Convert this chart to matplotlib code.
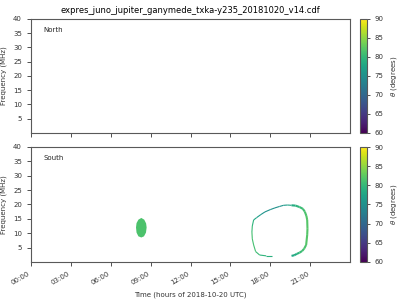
import matplotlib
matplotlib.use("Agg")
import matplotlib.pyplot as plt
import numpy as np
from matplotlib.collections import LineCollection
from matplotlib.colors import Normalize
from matplotlib.cm import ScalarMappable

title = "expres_juno_jupiter_ganymede_txka-y235_20181020_v14.cdf"
hemispheres = ["North", "South"]
xtick_hours = [0, 3, 6, 9, 12, 15, 18, 21]
xtick_labels = ["00:00", "03:00", "06:00", "09:00", "12:00", "15:00", "18:00", "21:00"]
ytick_vals = [5, 10, 15, 20, 25, 30, 35, 40]
cbar_ticks = [60, 65, 70, 75, 80, 85, 90]

# South: emission blob (outline) ~08:00-08:40
blob_t = [8.30, 8.52, 8.66, 8.70, 8.65, 8.50, 8.30, 8.08, 7.94, 7.90, 7.94, 8.08]
blob_f = [15.3, 14.7, 13.4, 12.0, 10.2, 8.9, 8.5, 8.9, 10.2, 12.0, 13.5, 14.7]
blob_theta = 81.5

# South: loop arc (two pieces separated by a gap at the bottom)
loop1_t = [18.10, 17.70, 17.20, 16.90, 16.75, 16.65, 16.62, 16.65, 16.75, 16.97, 17.30, 17.60,
           18.00, 18.35, 18.70, 19.00, 19.30, 19.60]
loop1_f = [2.1, 2.1, 2.4, 3.6, 5.9, 8.0, 10.4, 12.5, 14.6, 15.4, 16.5, 17.4,
           18.2, 18.8, 19.3, 19.7, 19.8, 19.7]
loop1_theta = [79, 79, 80, 81, 81, 81, 81, 80, 79, 77, 76, 75,
               75, 75, 75, 76, 77, 78]
loop2_t = [19.60, 19.90, 20.20, 20.45, 20.60, 20.72, 20.78, 20.80, 20.78, 20.70, 20.55, 20.40,
           20.20, 20.00, 19.80, 19.60]
loop2_f = [19.7, 19.6, 19.1, 18.5, 17.5, 16.0, 14.6, 11.5, 9.4, 5.9, 4.6, 3.8,
           3.2, 2.8, 2.3, 2.1]
loop2_theta = [78, 79, 80, 81, 81, 82, 82, 82, 82, 82, 81, 81,
               80, 79, 78, 78]

cmap = plt.get_cmap("viridis")
norm = Normalize(vmin=60, vmax=90)

fig = plt.figure(figsize=(4, 3), dpi=100)
ax_n = fig.add_axes([0.0775, 0.557, 0.7975, 0.380])
ax_s = fig.add_axes([0.0775, 0.127, 0.7975, 0.383])
cax_n = fig.add_axes([0.900, 0.557, 0.0175, 0.380])
cax_s = fig.add_axes([0.900, 0.127, 0.0175, 0.383])

for ax, name in zip([ax_n, ax_s], hemispheres):
    ax.set_xlim(0, 24)
    ax.set_ylim(0, 40)
    ax.set_xticks(xtick_hours)
    ax.set_yticks(ytick_vals)
    ax.set_yticklabels([str(v) for v in ytick_vals])
    ax.tick_params(labelsize=5, length=3, width=0.6, colors="0.2")
    ax.set_ylabel("Frequency (MHz)", fontsize=5, color="0.2")
    ax.text(0.04, 0.90, name, transform=ax.transAxes, fontsize=5, va="center", color="0.15")
    for sp in ax.spines.values():
        sp.set_color("0.35")
        sp.set_linewidth(0.8)

ax_n.set_xticklabels([])
ax_s.set_xticklabels(xtick_labels, rotation=30, ha="right")
ax_s.set_xlabel("Time (hours of 2018-10-20 UTC)", fontsize=5, color="0.2")
ax_n.set_title(title, fontsize=6, pad=4)

# blob
ax_s.fill(blob_t, blob_f, color=cmap(norm(blob_theta)), lw=0)

# loop
for lt, lf, lth, lw in [(loop1_t, loop1_f, loop1_theta, 0.8), (loop2_t, loop2_f, loop2_theta, 1.5)]:
    pts = np.column_stack([lt, lf])
    segs = np.stack([pts[:-1], pts[1:]], axis=1)
    cols = [(a + b) / 2 for a, b in zip(lth[:-1], lth[1:])]
    lc = LineCollection(segs, cmap=cmap, norm=norm, linewidths=lw)
    lc.set_array(np.array(cols))
    ax_s.add_collection(lc)

sm = ScalarMappable(norm=norm, cmap=cmap)
for cax in [cax_n, cax_s]:
    cb = fig.colorbar(sm, cax=cax, ticks=cbar_ticks)
    cb.ax.tick_params(labelsize=5, length=2, width=0.6, colors="0.2")
    cb.set_label(r"$\theta$ (degrees)", fontsize=5, color="0.2")
    cb.outline.set_edgecolor("0.35")
    cb.outline.set_linewidth(0.8)

fig.savefig("out.png", dpi=100)
